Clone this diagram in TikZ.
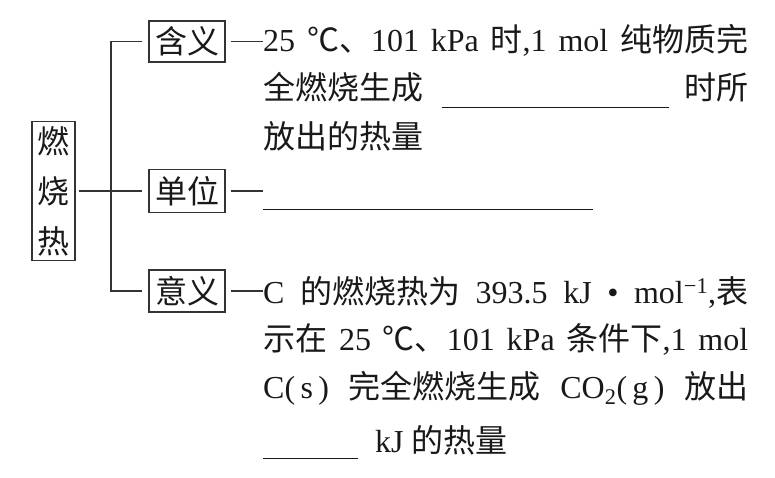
\documentclass[tikz,border=0pt]{standalone}
\usepackage{fontspec}
\setmainfont{Liberation Serif}
\newfontfamily\zhfont{Noto Sans CJK SC}
\newcommand\zh[1]{{\zhfont #1}}
\newcommand\fs{\fontsize{32}{48}\selectfont}
\definecolor{linec}{gray}{0.2}
\definecolor{textc}{gray}{0.1}
\begin{document}
\begin{tikzpicture}[x=1pt,y=-1pt,
  box/.style={draw=linec, line width=1.2pt, inner sep=0pt, text=textc, font=\fs},
  conn/.style={draw=linec, line width=1.2pt},
  txt/.style={anchor=base west, inner sep=0pt, text=textc, font=\fs}]
\useasboundingbox (0,0) rectangle (775,478);
% boxes
\node[box, minimum width=43, minimum height=139, align=center,
      font=\fontsize{32}{50}\selectfont] (main) at (53.5,191) {\zh{燃}\\\zh{烧}\\\zh{热}};
\node[box, minimum width=76, minimum height=41] (hy) at (187,41.5) {\zh{含义}};
\node[box, minimum width=76, minimum height=43] (dw) at (187,191) {\zh{单位}};
\node[box, minimum width=76, minimum height=42] (yy) at (187,291) {\zh{意义}};
\coordinate (vx) at (111,0);
% texts
\node[txt] (h1) at (263,52) {\makebox[485pt][s]{25 \zh{℃、}101 kPa \zh{时},1 mol \zh{纯物质完}}};
\node[txt] (h2) at (263,100) {\makebox[485pt][s]{\zh{全燃烧生成}\hspace{19pt}\rule[-8pt]{227pt}{1.2pt}\hfill\zh{时所}}};
\node[txt] (h3) at (263,149) {\zh{放出的热量}};
\node[txt] (d1) at (263,202.5) {\rule[-8pt]{330pt}{1.2pt}};
\node[txt] (y1) at (263,303) {\makebox[485pt][s]{C \zh{的燃烧热为} 393.5 kJ • mol\textsuperscript{−1},\zh{表}}};
\node[txt] (y2) at (263,350) {\makebox[485pt][s]{\zh{示在} 25 \zh{℃、}101 kPa \zh{条件下},1 mol}};
\node[txt] (y3) at (263,398) {\makebox[485pt][s]{C(\,s\,) \zh{完全燃烧生成} CO\textsubscript{2}(\,g\,) \zh{放出}}};
\node[txt] (y4) at (263,452) {\rule[-7pt]{95pt}{1.2pt}\hspace{17pt}kJ \zh{的热量}};
% connectors
\draw[conn] ([xshift=3pt]main.east) -- ([xshift=-6pt]dw.west);
\draw[conn] ([xshift=-6pt]hy.west) -- (hy.west -| vx) -- (yy.west -| vx) -- ([xshift=-6pt]yy.west);
\draw[conn] ([xshift=5pt]hy.east) -- (hy.east -| h1.west);
\draw[conn] ([xshift=5pt]dw.east) -- (dw.east -| d1.west);
\draw[conn] ([xshift=5pt]yy.east) -- (yy.east -| y1.west);
\end{tikzpicture}
\end{document}
